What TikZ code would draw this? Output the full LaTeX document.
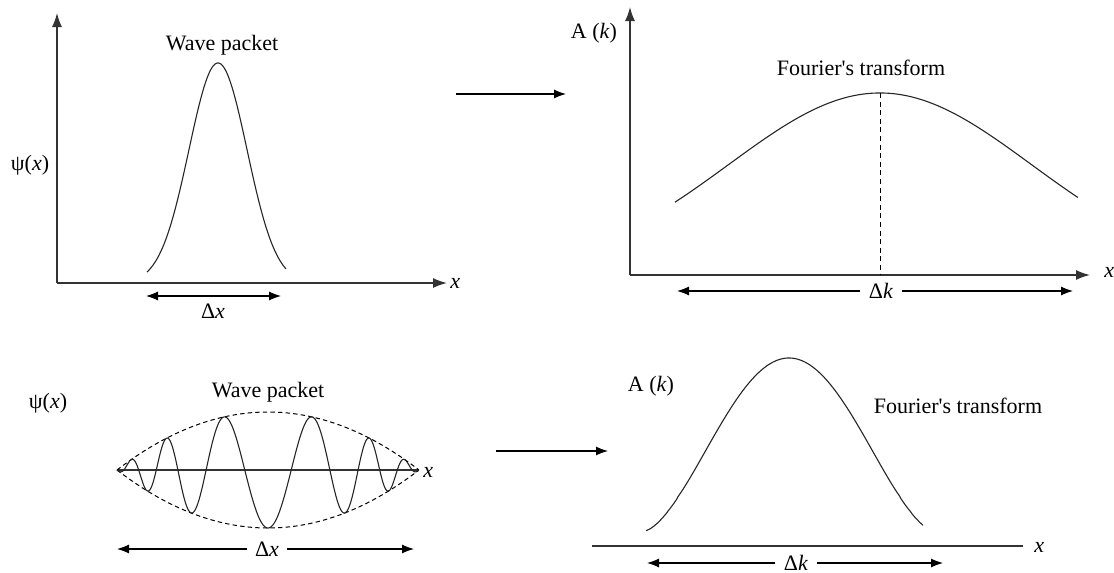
\documentclass[tikz,border=0pt]{standalone}
\usepackage{fontspec}
\setmainfont{Liberation Serif}
\usetikzlibrary{arrows.meta}
\begin{document}
\begin{tikzpicture}[x=0.5pt,y=-0.5pt,
  lbl/.style={inner sep=0pt, font=\fontsize{11}{13}\selectfont},
  gaplbl/.style={lbl, inner xsep=4pt},
  axis/.style={line width=0.75pt, draw=black!80},
  curve/.style={line width=0.55pt, draw=black!85},
  tip/.style={-{Latex[length=7pt,width=5pt]}},
  smalltip/.style={-{Latex[length=6pt,width=4.5pt]}},
  dtip/.style={line width=0.55pt,{Latex[length=6pt,width=4.5pt]}-{Latex[length=6pt,width=4.5pt]}},
  env/.style={line width=0.5pt, dash pattern=on 2.2pt off 1.6pt}
]
\useasboundingbox (0,0) rectangle (1114,573);

% ---------- top left ----------
\coordinate (o1) at (57,283);
\coordinate (y1) at (57,13);
\coordinate (x1) at (447,283);
\draw[axis,tip] (o1) -- (y1);
\draw[axis,tip] (o1) -- (x1);
\node[lbl,anchor=west] (xl1) at (450,283) {\textit{x}};
\node[lbl] (psi1) at (30,165) {ψ(\textit{x})};
\node[lbl] (wp1) at (222,45) {Wave packet};
\draw[curve] plot[domain=-7.1:6.8, samples=150, smooth] ({218+10*\x},{283-220*exp(-0.05945*\x*\x)});
\coordinate (dxl1) at (146,296);
\coordinate (dxr1) at (281,296);
\draw[dtip] (dxl1) -- (dxr1);
\node[lbl] (dx1) at (213,311) {Δ\textit{x}};

% middle arrow top
\coordinate (m1a) at (456,94);
\coordinate (m1b) at (566,94);
\draw[line width=0.55pt,smalltip] (m1a) -- (m1b);

% ---------- top right ----------
\coordinate (o2) at (630,275);
\coordinate (y2) at (630,7);
\coordinate (x2) at (1090,275);
\draw[axis,tip] (o2) -- (y2);
\draw[axis,tip] (o2) -- (x2);
\node[lbl,anchor=west] (xl2) at (1104,272) {\textit{x}};
\node[lbl] (ak1) at (594,33) {A (\textit{k})};
\node[lbl] (ft1) at (861,68) {Fourier\textquotesingle s transform};
\draw[curve] plot[domain=-2.05:1.98, samples=150, smooth] ({880+100*\x},{275-182*exp(-0.218*\x*\x)});
\coordinate (pk2) at (880,93);
\coordinate (pb2) at (880,275);
\draw[line width=0.5pt, dash pattern=on 2.5pt off 1.8pt] (pk2) -- (pb2);
\node[gaplbl] (dk1) at (881,291) {Δ\textit{k}};
\coordinate (dkl1) at (677,291);
\coordinate (dkr1) at (1073,291);
\draw[line width=0.55pt,smalltip] (dk1.west) -- (dkl1);
\draw[line width=0.55pt,smalltip] (dk1.east) -- (dkr1);

% ---------- bottom left ----------
\node[lbl] (psi2) at (48,403) {ψ(\textit{x})};
\node[lbl] (wp2) at (268,392) {Wave packet};
\coordinate (al2) at (117,470);
\coordinate (ar2) at (418,470);
\draw[line width=0.6pt, draw=black!80] (al2) -- (ar2);
\node[lbl,anchor=west] (xl3) at (423,472) {\textit{x}};
\draw[env] plot[domain=-1:1, samples=100, smooth] ({268+151*\x},{470-58*(1-\x*\x)});
\draw[env] plot[domain=-1:1, samples=100, smooth] ({268+151*\x},{470+58*(1-\x*\x)});
\draw[curve] plot[domain=-1:1, samples=600, smooth] ({268+151*\x},{470+58*(1-\x*\x)*cos(deg(10.01*\x+8.86*\x*\x*\x))});
\node[gaplbl] (dx2) at (267,549) {Δ\textit{x}};
\coordinate (dxl2) at (117,549);
\coordinate (dxr2) at (414,549);
\draw[line width=0.55pt,smalltip] (dx2.west) -- (dxl2);
\draw[line width=0.55pt,smalltip] (dx2.east) -- (dxr2);

% middle arrow bottom
\coordinate (m2a) at (496,451);
\coordinate (m2b) at (608,451);
\draw[line width=0.55pt,smalltip] (m2a) -- (m2b);

% ---------- bottom right ----------
\node[lbl] (ak2) at (651,386) {A (\textit{k})};
\node[lbl] (ft2) at (958,406) {Fourier\textquotesingle s transform};
\draw[curve] plot[domain=-143:134, samples=200, smooth] ({789+\x},{531-173*pow(max(0.0001,(1+cos(1.2414*\x))/2),0.8)});
\coordinate (al4) at (592,546);
\coordinate (ar4) at (1023,546);
\draw[line width=0.6pt, draw=black!80] (al4) -- (ar4);
\node[lbl,anchor=west] (xl4) at (1034,547) {\textit{x}};
\node[gaplbl] (dk2) at (796,563) {Δ\textit{k}};
\coordinate (dkl2) at (647,563);
\coordinate (dkr2) at (943,563);
\draw[line width=0.55pt,smalltip] (dk2.west) -- (dkl2);
\draw[line width=0.55pt,smalltip] (dk2.east) -- (dkr2);
\end{tikzpicture}
\end{document}
